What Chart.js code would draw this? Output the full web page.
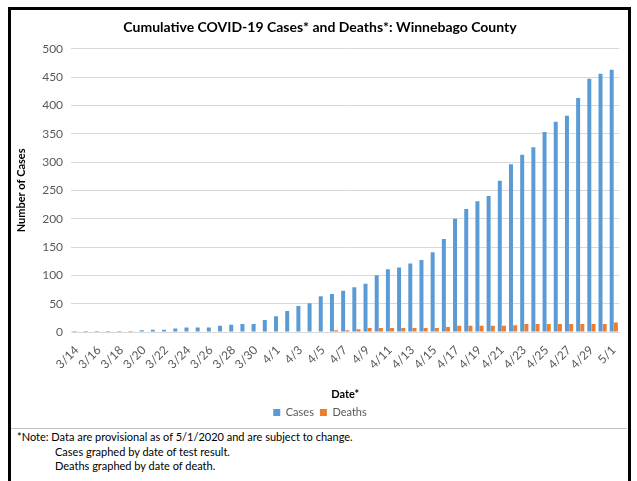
<!DOCTYPE html>
<html>
<head>
<meta charset="utf-8">
<script src="https://cdn.jsdelivr.net/npm/chart.js@4/dist/chart.umd.min.js"></script>
<style>
  html, body { margin: 0; padding: 0; background: #fff; }
  body { width: 637px; height: 481px; position: relative; overflow: hidden; font-family: Lato, "Open Sans", sans-serif; }
  #frame { position: absolute; left: 8px; top: 7px; width: 617px; height: 490px; border: 3px solid #000; }
  #box { position: absolute; left: 11px; top: 10px; width: 616px; height: 418px; }
  #sep { position: absolute; left: 11px; top: 428px; width: 616px; height: 1px; background: #bfbfbf; }
  #note { position: absolute; left: 17px; top: 430px; font-size: 11px; line-height: 14.5px; color: #000; }
  #note .ind { padding-left: 38px; }
</style>
</head>
<body>
<div id="frame"></div>
<div id="box"><canvas id="chart1"></canvas></div>
<div id="sep"></div>
<div id="note">
  <div>*Note: Data are provisional as of 5/1/2020 and are subject to change.</div>
  <div class="ind">Cases graphed by date of test result.</div>
  <div class="ind">Deaths graphed by date of death.</div>
</div>
<script>
const dates = [
  '3/14', '3/15', '3/16', '3/17', '3/18', '3/19', '3/20', '3/21', '3/22', '3/23',
  '3/24', '3/25', '3/26', '3/27', '3/28', '3/29', '3/30', '3/31',
  '4/1', '4/2', '4/3', '4/4', '4/5', '4/6', '4/7', '4/8', '4/9', '4/10',
  '4/11', '4/12', '4/13', '4/14', '4/15', '4/16', '4/17', '4/18', '4/19', '4/20',
  '4/21', '4/22', '4/23', '4/24', '4/25', '4/26', '4/27', '4/28', '4/29', '4/30',
  '5/1'
];
const cases = [
  2, 2, 2, 2, 2, 2, 3, 4, 4, 6,
  8, 8, 8, 11, 13, 14, 14, 21,
  28, 37, 46, 51, 63, 67, 73, 79, 85, 100,
  111, 114, 121, 127, 141, 164, 200, 217, 231, 240,
  267, 296, 313, 326, 353, 371, 382, 413, 447, 456,
  463
];
const deaths = [
  0, 0, 0, 0, 0, 0, 0, 0, 0, 0,
  0, 0, 0, 0, 0, 0, 1, 1,
  1, 1, 1, 1, 1, 3, 3, 5, 7, 7,
  7, 7, 7, 7, 7, 9, 11, 11, 11, 11,
  11, 12, 14, 14, 14, 14, 14, 14, 14, 14,
  17
];

const grey = '#595959';

const config = {
    type: 'bar',
    data: {
        labels: dates,
        datasets: [{
            label: 'Cases',
            backgroundColor: '#5B9BD5',
            data: cases,
            categoryPercentage: 0.75,
            barPercentage: 0.95
        },
        {
            label: 'Deaths',
            backgroundColor: '#ED7D31',
            data: deaths,
            categoryPercentage: 0.75,
            barPercentage: 0.95
        }]
    },
    options: {
        responsive: true,
        maintainAspectRatio: false,
        animation: false,
        layout: {
            padding: { left: 4, right: 2, top: 0, bottom: 0 }
        },
        plugins: {
            title: {
                display: true,
                text: 'Cumulative COVID-19 Cases* and Deaths*: Winnebago County',
                color: '#000',
                font: { family: 'Lato', size: 14, weight: 'bold' },
                padding: { top: 9, bottom: 13 }
            },
            legend: {
                position: 'bottom',
                labels: {
                    boxWidth: 7,
                    boxHeight: 7,
                    padding: 6,
                    color: grey,
                    font: { family: 'Lato', size: 11 }
                }
            },
            tooltip: { enabled: false }
        },
        scales: {
            x: {
                grid: { display: false },
                border: { color: '#d9d9d9' },
                ticks: {
                    autoSkip: false,
                    minRotation: 45,
                    maxRotation: 45,
                    color: grey,
                    font: { family: 'Lato', size: 12 },
                    callback: (v, i) => (i % 2 === 0 ? dates[i] : '')
                },
                title: {
                    display: true,
                    text: 'Date*',
                    color: '#000',
                    font: { family: 'Lato', size: 11, weight: 'bold' },
                    padding: { top: 13, bottom: 0 }
                }
            },
            y: {
                min: 0,
                max: 500,
                grid: { color: '#d9d9d9', drawTicks: false },
                border: { display: false },
                ticks: {
                    stepSize: 50,
                    padding: 8,
                    color: grey,
                    font: { family: 'Lato', size: 12 }
                },
                title: {
                    display: true,
                    text: 'Number of Cases',
                    color: '#000',
                    font: { family: 'Lato', size: 11, weight: 'bold' },
                    padding: { top: 0, bottom: 6 }
                }
            }
        }
    }
};

const ctx1 = document.getElementById('chart1').getContext('2d');
const chart1 = new Chart(ctx1, config);
</script>
</body>
</html>
